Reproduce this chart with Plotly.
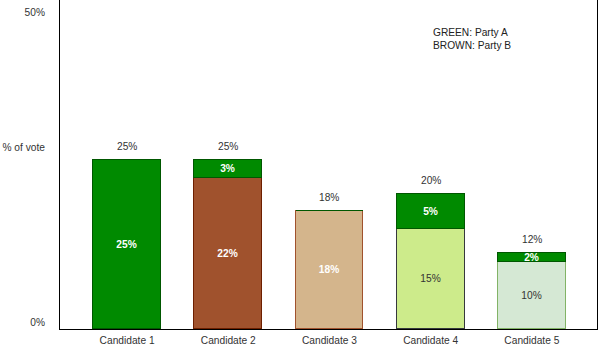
import plotly.graph_objects as go

candidates = ["Candidate 1", "Candidate 2", "Candidate 3", "Candidate 4", "Candidate 5"]
base_values = [25, 22.3, 17.5, 14.8, 9.9]
base_labels = ["25%", "22%", "18%", "15%", "10%"]
base_bold = [True, True, True, False, False]
top_values = [0, 2.7, 0, 5.2, 1.3]
top_labels = ["", "3%", "", "5%", "2%"]
total_labels = ["25%", "25%", "18%", "20%", "12%"]
y_tick_vals = [0.9, 26.9, 46.9]
y_tick_text = ["0%", "% of vote", "50%"]
legend_lines = ["GREEN: Party A", "BROWN: Party B"]

base_colors = ["#008a00", "#a0522d", "#d4b58c", "#cdeb8b", "#d5e8d4"]
base_lines = ["#005700", "#6d1f00", "#a0522d", "#36393d", "#82b366"]
base_text_colors = ["white", "white", "white", "#333333", "#333333"]

FONT = "Liberation Sans"
FS = 10.2

x = list(range(len(candidates)))
totals = [b + t for b, t in zip(base_values, top_values)]

fig = go.Figure()
fig.add_trace(go.Bar(
    x=x, y=base_values,
    text=[f"<b>{l}</b>" if b else l for l, b in zip(base_labels, base_bold)],
    textposition="inside", insidetextanchor="middle", constraintext="none",
    textfont=dict(color=base_text_colors, size=FS, family=FONT),
    marker=dict(color=base_colors, line=dict(color=base_lines, width=1)),
    width=0.67, hoverinfo="skip", showlegend=False,
))
fig.add_trace(go.Bar(
    x=x, y=top_values,
    text=[f"<b>{l}</b>" if l else "" for l in top_labels],
    textposition="inside", insidetextanchor="middle", constraintext="none",
    textfont=dict(color="white", size=FS, family=FONT),
    marker=dict(color="#008a00", line=dict(color="#005700", width=1)),
    width=0.67, hoverinfo="skip", showlegend=False,
))

for xi, tot, lab in zip(x, totals, total_labels):
    fig.add_annotation(
        x=xi, y=tot, text=lab, showarrow=False, yanchor="bottom", yshift=6,
        font=dict(color="#333333", size=FS, family=FONT),
    )

fig.add_annotation(
    x=0.69, y=0.925, xref="paper", yref="paper", xanchor="left", yanchor="top",
    text="<br>".join(legend_lines), align="left", showarrow=False,
    font=dict(size=FS, color="#222222", family=FONT),
)

fig.update_layout(
    width=600, height=355,
    margin=dict(l=60, r=3, t=0, b=26),
    barmode="stack", bargap=0,
    plot_bgcolor="white", paper_bgcolor="white",
    font=dict(family=FONT, size=FS, color="#333333"),
)
fig.update_xaxes(
    range=[-0.663, 4.644], tickvals=x, ticktext=candidates,
    showline=True, linecolor="#000000", linewidth=1, showgrid=False,
    zeroline=False, ticks="", ticklabelstandoff=2,
    tickfont=dict(size=FS, color="#333333"),
)
fig.update_yaxes(
    range=[0, 48.67], tickvals=y_tick_vals, ticktext=y_tick_text,
    showline=True, mirror=True, linecolor="#000000", linewidth=1,
    showgrid=False, zeroline=False, ticks="", ticklabelstandoff=12,
    tickfont=dict(size=FS, color="#333333"),
)

fig.write_html("out.html")
